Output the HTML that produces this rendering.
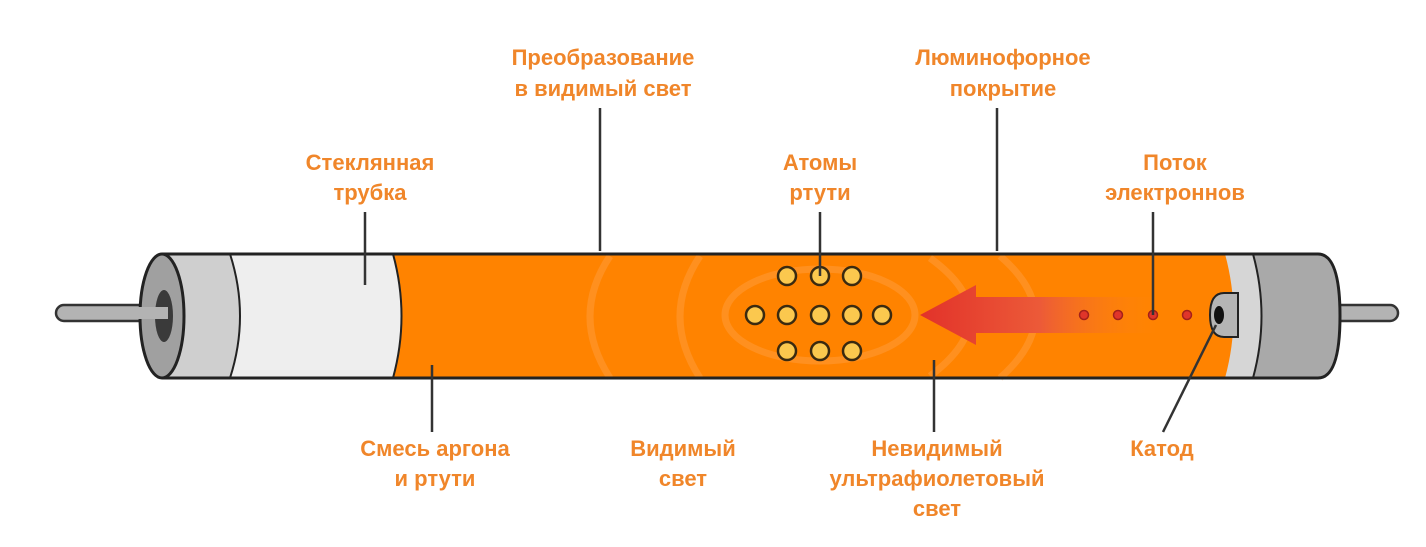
<!DOCTYPE html>
<html><head><meta charset="utf-8"><style>
html,body{margin:0;padding:0;background:#fff;width:1426px;height:547px;overflow:hidden}
text{font-family:"Liberation Sans",sans-serif;font-weight:bold;font-size:22px;fill:#f0862a;text-anchor:middle}
</style></head><body>
<svg width="1426" height="547" viewBox="0 0 1426 547" xmlns="http://www.w3.org/2000/svg">
<defs>
<linearGradient id="ar" x1="920" y1="0" x2="1160" y2="0" gradientUnits="userSpaceOnUse">
<stop offset="0" stop-color="#e2322a"/><stop offset="0.5" stop-color="#ec5a38"/><stop offset="1" stop-color="#ff8a10" stop-opacity="0"/>
</linearGradient>
</defs>
<rect x="56" y="305" width="110" height="16" rx="8" fill="#b3b3b3" stroke="#333" stroke-width="2.5"/>
<rect x="1320" y="305" width="78" height="16" rx="8" fill="#b3b3b3" stroke="#333" stroke-width="2.5"/>
<path d="M1240,254 L1318,254 Q1340,254 1340,316 Q1340,378 1318,378 L1240,378 Z" fill="#a9a9a9" stroke="#222" stroke-width="3"/>
<path d="M1215,254 L1253,254 Q1270,316 1253,378 L1215,378 Z" fill="#d6d6d6" stroke="#222" stroke-width="2"/>
<path d="M393,254 L1225,254 Q1242,316 1225,378 L393,378 Q410,316 393,254 Z" fill="#ff8300"/>
<g fill="none" stroke="#ffb066" stroke-width="7" opacity="0.3">
<ellipse cx="820" cy="315" rx="95" ry="46"/>
<path d="M930,258 Q1010,316 930,376"/>
<path d="M1000,256 Q1070,316 1000,378"/>
<path d="M700,256 Q660,316 700,378"/>
<path d="M610,256 Q570,316 610,378"/>
</g>
<path d="M230,254 L393,254 Q410,316 393,378 L230,378 Z" fill="#eeeeee" stroke="#222" stroke-width="2"/>
<path d="M162,254 L230,254 Q250,316 230,378 L162,378 Z" fill="#cfcfcf" stroke="#222" stroke-width="2"/>
<ellipse cx="162" cy="316" rx="22" ry="62" fill="#a0a0a0" stroke="#222" stroke-width="3"/>
<ellipse cx="164" cy="316" rx="9" ry="26" fill="#3a3a3a"/>
<rect x="100" y="307" width="68" height="12" fill="#b3b3b3"/>
<line x1="162" y1="254" x2="1318" y2="254" stroke="#222" stroke-width="3"/>
<line x1="162" y1="378" x2="1318" y2="378" stroke="#222" stroke-width="3"/>
<path d="M920,315 L976,285 L976,297 L1160,297 L1160,333 L976,333 L976,345 Z" fill="url(#ar)"/>
<g fill="#e0352a" stroke="#a3201a" stroke-width="1.5">
<circle cx="1084" cy="315" r="4.5"/><circle cx="1118" cy="315" r="4.5"/><circle cx="1153" cy="315" r="4.5"/><circle cx="1187" cy="315" r="4.5"/>
</g>
<path d="M1224,293 L1238,293 L1238,337 L1224,337 Q1210,337 1210,315 Q1210,293 1224,293 Z" fill="#b5b5b5" stroke="#222" stroke-width="2"/>
<ellipse cx="1219" cy="315" rx="5" ry="9" fill="#111"/>
<g fill="#fbc84e" stroke="#3a2a10" stroke-width="2.5">
<circle cx="787" cy="276" r="9"/><circle cx="820" cy="276" r="9"/><circle cx="852" cy="276" r="9"/>
<circle cx="755" cy="315" r="9"/><circle cx="787" cy="315" r="9"/><circle cx="820" cy="315" r="9"/><circle cx="852" cy="315" r="9"/><circle cx="882" cy="315" r="9"/>
<circle cx="787" cy="351" r="9"/><circle cx="820" cy="351" r="9"/><circle cx="852" cy="351" r="9"/>
</g>
<g stroke="#333" stroke-width="2.5">
<line x1="600" y1="108" x2="600" y2="251"/>
<line x1="997" y1="108" x2="997" y2="251"/>
<line x1="365" y1="212" x2="365" y2="285"/>
<line x1="820" y1="212" x2="820" y2="276"/>
<line x1="1153" y1="212" x2="1153" y2="315"/>
<line x1="432" y1="365" x2="432" y2="432"/>
<line x1="934" y1="360" x2="934" y2="432"/>
<line x1="1216" y1="325" x2="1163" y2="432"/>
</g>
<text x="603" y="65">Преобразование</text>
<text x="603" y="96">в видимый свет</text>
<text x="1003" y="65">Люминофорное</text>
<text x="1003" y="96">покрытие</text>
<text x="370" y="170">Стеклянная</text>
<text x="370" y="200">трубка</text>
<text x="820" y="170">Атомы</text>
<text x="820" y="200">ртути</text>
<text x="1175" y="170">Поток</text>
<text x="1175" y="200">электроннов</text>
<text x="435" y="456">Смесь аргона</text>
<text x="435" y="486">и ртути</text>
<text x="683" y="456">Видимый</text>
<text x="683" y="486">свет</text>
<text x="937" y="456">Невидимый</text>
<text x="937" y="486">ультрафиолетовый</text>
<text x="937" y="516">свет</text>
<text x="1162" y="456">Катод</text>
</svg>
</body></html>
